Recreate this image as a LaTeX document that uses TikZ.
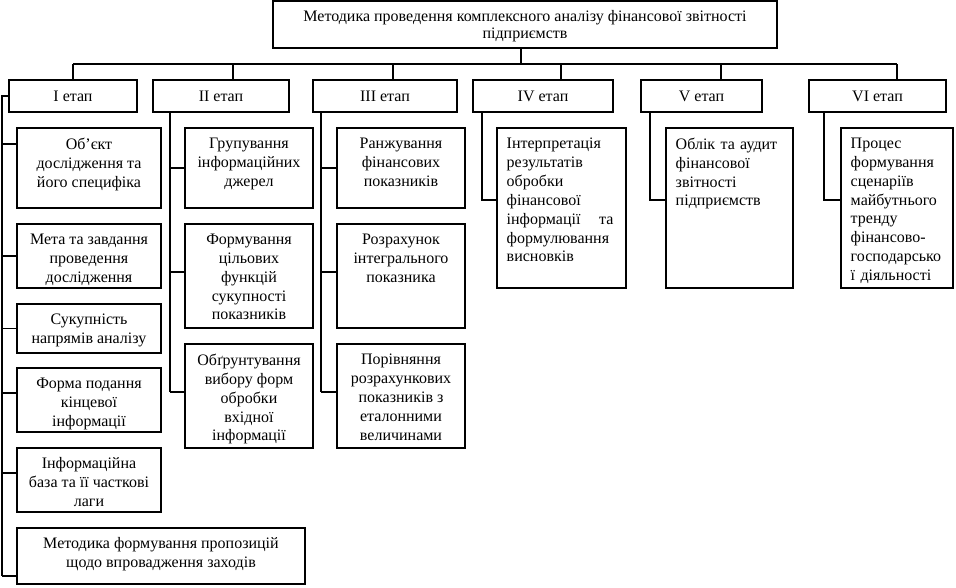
\documentclass[tikz,border=0pt]{standalone}
\usepackage{fontspec}
\setmainfont{Liberation Serif}
\newcommand\mybox[6]{%
  \node[box, minimum width={(#4-#2)*0.75pt}, minimum height={(#5-#3)*0.75pt}] (#1) at ({(#2+#4)/2},{(#3+#5)/2}) {};
  \node[tc, anchor=north] at ([yshift=-7.5pt]#1.north) {#6};}
\newcommand\lbox[6]{%
  \node[box, minimum width={(#4-#2)*0.75pt}, minimum height={(#5-#3)*0.75pt}] (#1) at ({(#2+#4)/2},{(#3+#5)/2}) {};
  \node[tl, anchor=north west] at ([xshift=7.5pt,yshift=-7.5pt]#1.north west) {#6};}
\newcommand\stg[4]{%
  \node[box, minimum width={(#3-#2)*0.75pt}, minimum height=24pt, font=\fontsize{12}{14}\selectfont] (#1) at ({(#2+#3)/2},96) {#4};}
\newcommand\tk[3]{%
  \path ([yshift={(#3)*(-0.75pt)}]#2.west) coordinate (tkp);
  \draw[ln] (#1 |- tkp) -- (tkp);}
\begin{document}
\begin{tikzpicture}[x=0.75pt,y=-0.75pt,
  box/.style={draw, line width=0.8pt, inner sep=0pt},
  ln/.style={line width=0.8pt},
  tc/.style={inner sep=0pt, align=center, font=\fontsize{12}{14.2}\selectfont},
  tl/.style={inner sep=0pt, align=left, text width=80pt, font=\fontsize{12}{14.2}\selectfont}]
\useasboundingbox (0,0) rectangle (956,587);
% top
\node[box, minimum width={504*0.75pt}, minimum height={47*0.75pt}] (top) at (525,24.5) {};
\node[inner sep=0pt, align=center, anchor=north, font=\fontsize{12}{13}\selectfont] (toptxt) at ([yshift=-7pt]top.north) {Методика проведення комплексного аналізу фінансової звітності\\підприємств};
% stages
\stg{I}{9}{137}{I етап}
\stg{II}{153}{289}{II етап}
\stg{III}{313}{457}{III етап}
\stg{IV}{473}{613}{IV етап}
\stg{V}{641}{762}{V етап}
\stg{VI}{809}{946}{VI етап}
% bus
\coordinate (tb) at (521,64);
\coordinate (x1) at (73,64);
\coordinate (x2) at (233,64);
\coordinate (x3) at (393,64);
\coordinate (x4) at (561,64);
\coordinate (x5) at (721,64);
\coordinate (x6) at (897,64);
\draw[ln] (tb |- top.south) -- (tb);
\draw[ln] (x1) -- (x6);
\foreach \n/\s in {x1/I,x2/II,x3/III,x4/IV,x5/V,x6/VI} \draw[ln] (\n) -- (\n |- \s.north);
% children I
\mybox{a1}{17}{128}{161}{208}{Об’єкт\\дослідження та\\його специфіка}
\mybox{a2}{17}{224}{161}{288}{Мета та завдання\\проведення\\дослідження}
\mybox{a3}{17}{304}{161}{353}{Сукупність\\напрямів аналізу}
\mybox{a4}{17}{368}{161}{432}{Форма подання\\кінцевої\\інформації}
\mybox{a5}{17}{448}{161}{512}{Інформаційна\\база та її часткові\\лаги}
\mybox{a6}{17}{528}{305}{584}{Методика формування пропозицій\\щодо впровадження заходів}
% children II
\mybox{b1}{185}{128}{313}{208}{Групування\\інформаційних\\джерел}
\mybox{b2}{185}{224}{313}{328}{Формування\\цільових\\функцій\\сукупності\\показників}
\mybox{b3}{185}{344}{313}{448}{Обґрунтування\\вибору форм\\обробки\\вхідної\\інформації}
% children III
\mybox{c1}{337}{128}{465}{208}{Ранжування\\фінансових\\показників}
\mybox{c2}{337}{224}{465}{328}{Розрахунок\\інтегрального\\показника}
\mybox{c3}{337}{344}{465}{448}{Порівняння\\розрахункових\\показників з\\еталонними\\величинами}
% children IV-VI
\lbox{d1}{497}{128}{626}{288}{Інтерпретація\\результатів\\обробки\\фінансової\\інформації\hfill та\\формулювання\\висновків}
\lbox{e1}{666}{128}{793}{288}{Облік та аудит\\фінансової\\звітності\\підприємств}
\lbox{f1}{841}{128}{953}{288}{Процес\\формування\\сценаріїв\\майбутнього\\тренду\\фінансово-\\господарсько\\ї діяльності}
% spines
\coordinate (s1) at (2,96);
\coordinate (e1s) at (2,576);
\draw[ln] (I.west) -- (s1) -- (e1s);
\tk{s1}{a1}{-24}
\tk{s1}{a2}{0}
\tk{s1}{a3}{0}
\tk{s1}{a4}{-7}
\tk{s1}{a5}{-7}
\tk{s1}{a6}{20}
\coordinate (s2) at (170,112);
\coordinate (e2s) at (170,392);
\draw[ln] (s2) -- (e2s);
\tk{s2}{b1}{0}
\tk{s2}{b2}{-4}
\tk{s2}{b3}{-4}
\coordinate (s3) at (321,112);
\coordinate (e3s) at (321,392);
\draw[ln] (s3) -- (e3s);
\tk{s3}{c1}{0}
\tk{s3}{c2}{-4}
\tk{s3}{c3}{-4}
\coordinate (s4) at (482,112);
\coordinate (s5) at (650,112);
\coordinate (s6) at (824,112);
\foreach \s/\c in {s4/d1,s5/e1,s6/f1} {
  \path ([yshift=6pt]\c.west) coordinate (tkq);
  \draw[ln] (\s) -- (\s |- tkq) -- (tkq);
}
\end{tikzpicture}
\end{document}
